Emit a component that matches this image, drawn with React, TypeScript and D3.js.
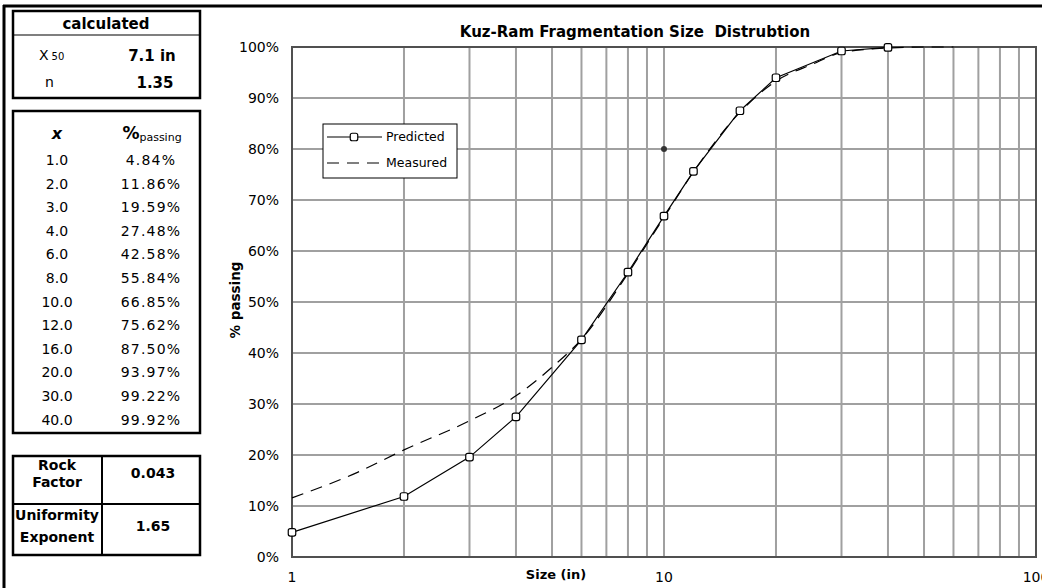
import React from 'react';
import * as d3 from 'd3';

const W = 1042;
const H = 588;

const sizes = [1, 2, 3, 4, 6, 8, 10, 12, 16, 20, 30, 40];
const predicted = [4.84, 11.86, 19.59, 27.48, 42.58, 55.84, 66.85, 75.62, 87.5, 93.97, 99.22, 99.92];
const measuredX = [1, 1.5, 2, 3, 4, 5, 6, 8, 10, 12, 16, 20, 25, 30, 40, 50, 60];
const measuredY = [11.6, 16.6, 21.0, 26.7, 31.6, 37.2, 42.7, 55.6, 66.6, 75.5, 87.2, 93.3, 96.6, 98.9, 99.8, 100, 100];
const yTicks = [0, 10, 20, 30, 40, 50, 60, 70, 80, 90, 100];
const xTickLabels = [1, 10, 100];
const markerPoint = { x: 10, y: 80 };

const title = 'Kuz-Ram Fragmentation Size  Distrubtion';
const xTitle = 'Size (in)';
const yTitle = '% passing';
const seriesNames = ['Predicted', 'Measured'];
const calcHeader = 'calculated';
const x50Value = '7.1 in';
const nValue = '1.35';
const rockFactor = '0.043';
const uniformityExponent = '1.65';

const FONT = 'DejaVu Sans, Verdana, sans-serif';

export default function App() {
  const x = d3.scaleLog().domain([1, 100]).range([292, 1036]);
  const y = d3.scaleLinear().domain([0, 100]).range([557, 47]);

  const gridX: number[] = [];
  [1, 10].forEach((dec) => {
    for (let k = 2; k <= 9; k++) gridX.push(dec * k);
  });
  gridX.push(10);

  const predLine = d3
    .line<number>()
    .x((_, i) => x(sizes[i]))
    .y((d) => y(d))(predicted) as string;

  const measLine = d3
    .line<number>()
    .x((_, i) => x(measuredX[i]))
    .y((d) => y(d))
    .curve(d3.curveMonotoneX)(measuredY) as string;

  const rowY0 = 160;
  const rowStep = 23.6;

  return (
    <svg
      width={W}
      height={H}
      style={{ position: 'absolute', left: 0, top: 0, background: '#fff' }}
      fontFamily={FONT}
    >
      <rect x={0} y={0} width={W} height={H} fill="#fff" />
      {/* outer frame */}
      <line x1={4} y1={5} x2={4} y2={H} stroke="#000" strokeWidth={3} />
      <line x1={3} y1={6} x2={W} y2={6} stroke="#000" strokeWidth={3} />

      {/* calculated box */}
      <rect x={13} y={11} width={187} height={87} fill="#fff" stroke="#000" strokeWidth={2.5} />
      <line x1={13} y1={35} x2={200} y2={35} stroke="#000" strokeWidth={1.2} />
      <text x={106} y={29} textAnchor="middle" fontWeight="bold" fontSize={15}>
        {calcHeader}
      </text>
      <text x={39} y={60} fontSize={14}>
        X<tspan fontSize={10} dx={3}>50</tspan>
      </text>
      <text x={152} y={61} textAnchor="middle" fontWeight="bold" fontSize={15}>
        {x50Value}
      </text>
      <text x={45} y={87} fontSize={14}>
        n
      </text>
      <text x={155} y={88} textAnchor="middle" fontWeight="bold" fontSize={15}>
        {nValue}
      </text>

      {/* size table */}
      <rect x={13} y={111} width={187} height={322} fill="#fff" stroke="#000" strokeWidth={2.5} />
      <text x={57} y={139} textAnchor="middle" fontWeight="bold" fontStyle="italic" fontSize={16}>
        x
      </text>
      <text x={152} y={139} textAnchor="middle">
        <tspan fontWeight="bold" fontSize={17}>%</tspan>
        <tspan fontSize={11} dy={2}>passing</tspan>
      </text>
      {sizes.map((s, i) => (
        <g key={s}>
          <text x={57} y={rowY0 + i * rowStep + 5} textAnchor="middle" fontSize={14}>
            {s.toFixed(1)}
          </text>
          <text x={151} y={rowY0 + i * rowStep + 5} textAnchor="middle" fontSize={14} letterSpacing={1.2}>
            {predicted[i].toFixed(2) + '%'}
          </text>
        </g>
      ))}

      {/* rock factor box */}
      <rect x={13} y={456} width={187} height={99} fill="#fff" stroke="#000" strokeWidth={2.5} />
      <line x1={102} y1={456} x2={102} y2={555} stroke="#000" strokeWidth={2} />
      <line x1={13} y1={504} x2={200} y2={504} stroke="#000" strokeWidth={2} />
      <text x={57} y={470} textAnchor="middle" fontWeight="bold" fontSize={14}>Rock</text>
      <text x={57} y={487} textAnchor="middle" fontWeight="bold" fontSize={14}>Factor</text>
      <text x={153} y={478} textAnchor="middle" fontWeight="bold" fontSize={14}>{rockFactor}</text>
      <text x={57} y={520} textAnchor="middle" fontWeight="bold" fontSize={14}>Uniformity</text>
      <text x={57} y={542} textAnchor="middle" fontWeight="bold" fontSize={14}>Exponent</text>
      <text x={153} y={531} textAnchor="middle" fontWeight="bold" fontSize={14}>{uniformityExponent}</text>

      {/* chart title */}
      <text x={635} y={37} textAnchor="middle" fontWeight="bold" fontSize={15} style={{ whiteSpace: 'pre' }}>
        {title}
      </text>

      {/* grid */}
      {yTicks.map((t) => (
        <line key={'h' + t} x1={x(1)} x2={x(100)} y1={y(t)} y2={y(t)} stroke="#a0a0a0" strokeWidth={2} />
      ))}
      {gridX.map((g) => (
        <line key={'v' + g} x1={x(g)} x2={x(g)} y1={y(0)} y2={y(100)} stroke="#a0a0a0" strokeWidth={2} />
      ))}
      <rect x={x(1)} y={y(100)} width={x(100) - x(1)} height={y(0) - y(100)} fill="none" stroke="#505050" strokeWidth={2} />

      {/* y ticks */}
      {yTicks.map((t) => (
        <text key={'yt' + t} x={279} y={y(t) + 5} textAnchor="end" fontSize={14}>
          {t + '%'}
        </text>
      ))}
      {/* x ticks */}
      {xTickLabels.map((t) => (
        <text key={'xt' + t} x={x(t)} y={582} textAnchor="middle" fontSize={14}>
          {t}
        </text>
      ))}
      <text x={556} y={579} textAnchor="middle" fontWeight="bold" fontSize={13}>
        {xTitle}
      </text>
      <text transform="translate(240,300) rotate(-90)" textAnchor="middle" fontWeight="bold" fontSize={13.5}>
        {yTitle}
      </text>

      {/* series */}
      <path d={measLine} fill="none" stroke="#000" strokeWidth={1.2} strokeDasharray="12,8" />
      <path d={predLine} fill="none" stroke="#000" strokeWidth={1.2} />
      {sizes.map((s, i) => (
        <rect
          key={'m' + s}
          x={x(s) - 3.75}
          y={y(predicted[i]) - 3.75}
          width={7.5}
          height={7.5}
          rx={2}
          fill="#fff"
          stroke="#000"
          strokeWidth={1.2}
        />
      ))}
      <circle cx={x(markerPoint.x)} cy={y(markerPoint.y)} r={3} fill="#333" />

      {/* legend */}
      <rect x={323} y={124} width={134} height={54} fill="#fff" stroke="#000" strokeWidth={1} />
      <line x1={327} x2={382} y1={137} y2={137} stroke="#000" strokeWidth={1.2} />
      <rect x={350.25} y={133.25} width={7.5} height={7.5} rx={2} fill="#fff" stroke="#000" strokeWidth={1.2} />
      <text x={386} y={141} fontSize={12.5}>{seriesNames[0]}</text>
      <line x1={327} x2={382} y1={163} y2={163} stroke="#000" strokeWidth={1.2} strokeDasharray="12,8" />
      <text x={386} y={167} fontSize={12.5}>{seriesNames[1]}</text>
    </svg>
  );
}
